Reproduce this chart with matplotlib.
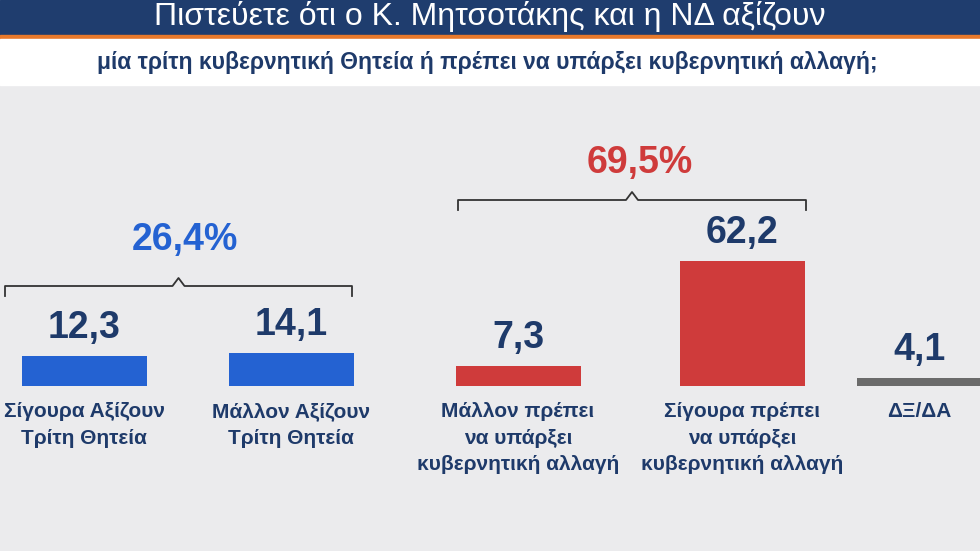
import matplotlib
matplotlib.use("Agg")
import matplotlib.pyplot as plt
import numpy as np

title = "Πιστεύετε ότι ο Κ. Μητσοτάκης και η ΝΔ αξίζουν"
subtitle = "μία τρίτη κυβερνητική Θητεία ή πρέπει να υπάρξει κυβερνητική αλλαγή;"
categories = ["Σίγουρα Αξίζουν\nΤρίτη Θητεία", "Μάλλον Αξίζουν\nΤρίτη Θητεία",
              "Μάλλον πρέπει\nνα υπάρξει\nκυβερνητική αλλαγή",
              "Σίγουρα πρέπει\nνα υπάρξει\nκυβερνητική αλλαγή", "ΔΞ/ΔΑ"]
values = [12.3, 14.1, 7.3, 62.2, 4.1]
labels = ["12,3", "14,1", "7,3", "62,2", "4,1"]
group_labels = ["26,4%", "69,5%"]

blue, red, gray, navy = "#2462d2", "#cf3b3b", "#6b6b6b", "#1e3a6a"
colors = [blue, blue, red, red, gray]
centers = [84, 291, 518, 742, 919]
base = 386

fig = plt.figure(figsize=(9.8, 5.51), dpi=100)
ax = fig.add_axes([0, 0, 1, 1])
ax.set_xlim(0, 980); ax.set_ylim(551, 0); ax.axis("off")
ax.add_patch(plt.Rectangle((0, 85), 980, 466, color="#ebebed", zorder=0))
ax.add_patch(plt.Rectangle((0, 0), 980, 35, color="#1f3d6e", zorder=1))
ax.add_patch(plt.Rectangle((0, 35), 980, 4, color="#e8792b", zorder=1))
ax.add_patch(plt.Rectangle((0, 39), 980, 46, color="white", zorder=1))
narrow = ["Liberation Sans Narrow", "Liberation Sans", "DejaVu Sans"]
ax.text(490, 17, title, color="white", fontsize=23, ha="center", va="center", zorder=2, family=["Liberation Sans", "DejaVu Sans"])
ax.text(487, 62, subtitle, color=navy, fontsize=16.5, fontweight="bold", ha="center", va="center", zorder=2, family=["Liberation Sans", "DejaVu Sans"])

for c, v, col, lab, cat in zip(centers, values, colors, labels, categories):
    h = 6 + v * 1.92 if v > 5 else 8
    ax.bar(c, h, width=125, bottom=base - h, color=col, zorder=3)
    ax.text(c, base - h - 10, lab, color=navy, fontsize=27, fontweight="bold", ha="center", va="bottom", zorder=4, family=["Liberation Sans", "DejaVu Sans"])
    ax.text(c, 402, cat, color=navy, fontsize=15, fontweight="bold", ha="center", va="top", linespacing=1.5, zorder=4, family=narrow)

def brace(x0, x1, y):
    xm = (x0 + x1) / 2
    ax.plot([x0, x0, xm - 6, xm, xm + 6, x1, x1], [y + 12, y + 2, y + 2, y - 6, y + 2, y + 2, y + 12],
            color="#333333", lw=1.3, zorder=3)

brace(5, 352, 284)
brace(458, 806, 198)
ax.text(185, 240, group_labels[0], color=blue, fontsize=27, fontweight="bold", ha="center", va="center", zorder=4, family=["Liberation Sans", "DejaVu Sans"])
ax.text(640, 163, group_labels[1], color=red, fontsize=27, fontweight="bold", ha="center", va="center", zorder=4, family=["Liberation Sans", "DejaVu Sans"])
fig.savefig("out.png", dpi=100)
